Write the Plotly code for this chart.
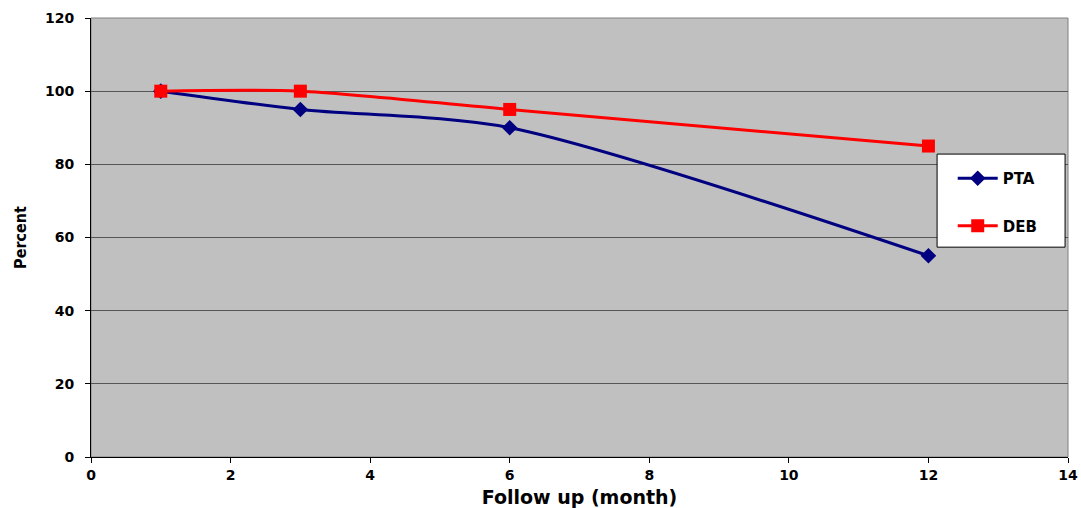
import plotly.graph_objects as go

months = [1, 3, 6, 12]
pta = [100, 95, 90, 55]
deb = [100, 100, 95, 85]

fig = go.Figure()
fig.add_trace(go.Scatter(x=months, y=pta, name="PTA", mode="lines+markers",
                         line=dict(color="#000080", width=3, shape="spline", smoothing=0.8),
                         marker=dict(symbol="diamond", size=12, color="#000080"),
                         legendgroup="a"))
fig.add_trace(go.Scatter(x=months, y=deb, name="DEB", mode="lines+markers",
                         line=dict(color="#FF0000", width=3, shape="spline", smoothing=0.8),
                         marker=dict(symbol="square", size=13, color="#FF0000"),
                         legendgroup="b"))

tickfont = dict(family="DejaVu Sans", size=14, color="black", weight="bold")
fig.update_layout(
    width=1081, height=508,
    margin=dict(l=91, r=13, t=18, b=51),
    paper_bgcolor="white", plot_bgcolor="#C0C0C0",
    showlegend=True,
    legend=dict(x=0.882, y=0.672, xanchor="left", yanchor="top",
                bgcolor="rgba(0,0,0,0)", borderwidth=0,
                font=dict(family="DejaVu Sans", size=15, color="black", weight="bold"),
                tracegroupgap=25, itemwidth=40),
    xaxis=dict(range=[0, 14], tickvals=[0, 2, 4, 6, 8, 10, 12, 14], showgrid=False,
               zeroline=False, showline=True, linecolor="black", linewidth=1,
               ticks="outside", ticklen=5, tickcolor="black", automargin=False,
               tickfont=tickfont,
               title=dict(text="Follow up (month)", standoff=10,
                          font=dict(family="DejaVu Sans", size=19, color="black", weight="bold"))),
    yaxis=dict(range=[0, 120], tickvals=[0, 20, 40, 60, 80, 100, 120], showgrid=True,
               gridcolor="#555555", gridwidth=1, automargin=False,
               zeroline=False, showline=True, linecolor="black", linewidth=1,
               ticks="outside", ticklen=5, tickcolor="black", ticklabelstandoff=8,
               tickfont=tickfont,
               title=dict(text="Percent", standoff=14,
                          font=dict(family="Liberation Sans Narrow, DejaVu Sans Condensed", size=16, color="black", weight="bold"))),
)
fig.add_shape(type="rect", xref="paper", yref="paper", x0=0, x1=1, y0=0, y1=1,
              line=dict(color="#808080", width=1), layer="below")
fig.add_shape(type="rect", xref="paper", yref="paper", x0=0.866, x1=0.997, y0=0.478, y1=0.690,
              line=dict(color="black", width=1), fillcolor="white", layer="above")
fig.write_html("out.html")
